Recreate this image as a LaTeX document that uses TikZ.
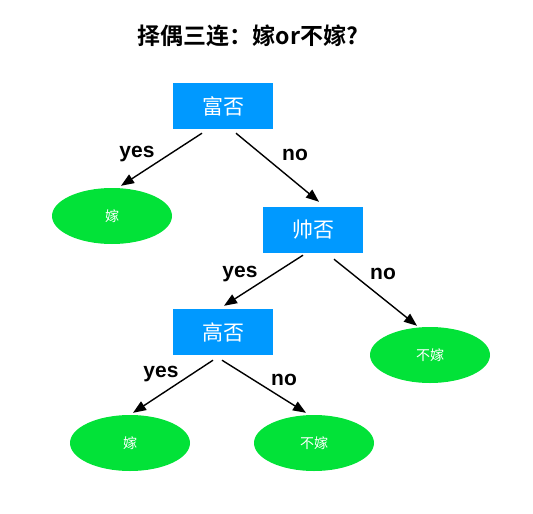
\documentclass[tikz,border=0pt]{standalone}
\usepackage{fontspec}
\setmainfont{Liberation Sans}
\newfontfamily\cjk{Noto Sans CJK SC}
\newfontfamily\cjkb{Noto Sans CJK SC Bold}
\usetikzlibrary{arrows.meta,shapes.geometric}
\definecolor{boxblue}{RGB}{0,153,255}
\definecolor{leafgreen}{RGB}{2,226,56}
\tikzset{
  qbox/.style={fill=boxblue,draw=none,minimum width=100pt,minimum height=46pt,inner sep=0pt,text=white,font=\cjk\fontsize{21}{21}\selectfont},
  leaf/.style={ellipse,fill=leafgreen,draw=none,minimum width=120pt,minimum height=56pt,inner sep=0pt,text=white,font=\cjk\fontsize{14}{14}\selectfont},
  lbl/.style={font=\bfseries\fontsize{21}{21}\selectfont,inner sep=0pt},
  arr/.style={line width=1.4pt,-{Triangle[length=13pt,width=10pt]}}
}
\begin{document}
\begin{tikzpicture}[x=1pt,y=-1pt]
\useasboundingbox (0,0) rectangle (533,514);
\node[font=\cjkb\fontsize{23}{23}\selectfont,inner sep=0pt] (title) at (248,36) {择偶三连：嫁or不嫁?};
\node[qbox] (r) at (223,106) {富否};
\node[leaf] (a) at (112,216) {嫁};
\node[qbox] (s) at (313,230) {帅否};
\node[qbox] (h) at (223,332) {高否};
\node[leaf] (n) at (430,355) {不嫁};
\node[leaf] (c) at (130,443) {嫁};
\node[leaf] (d) at (314,443) {不嫁};
\draw[arr] ([xshift=-21pt,yshift=-4pt]r.south) -- ([xshift=9pt,yshift=2pt]a.north);
\draw[arr] ([xshift=13pt,yshift=-4pt]r.south) -- ([xshift=6pt,yshift=5pt]s.north);
\draw[arr] ([xshift=-10pt,yshift=-2pt]s.south) -- ([xshift=1pt,yshift=3pt]h.north);
\draw[arr] ([xshift=21pt,yshift=-6pt]s.south) -- ([xshift=-13pt,yshift=1pt]n.north);
\draw[arr] ([xshift=-10pt,yshift=-5pt]h.south) -- ([xshift=3pt,yshift=2pt]c.north);
\draw[arr] ([xshift=-1pt,yshift=-5pt]h.south) -- ([xshift=-8pt,yshift=2pt]d.north);
\node[lbl] (l1) at (137,154) {yes};
\node[lbl] (l2) at (295,155) {no};
\node[lbl] (l3) at (240,274) {yes};
\node[lbl] (l4) at (383,274) {no};
\node[lbl] (l5) at (161,374) {yes};
\node[lbl] (l6) at (284,380) {no};
\end{tikzpicture}
\end{document}
